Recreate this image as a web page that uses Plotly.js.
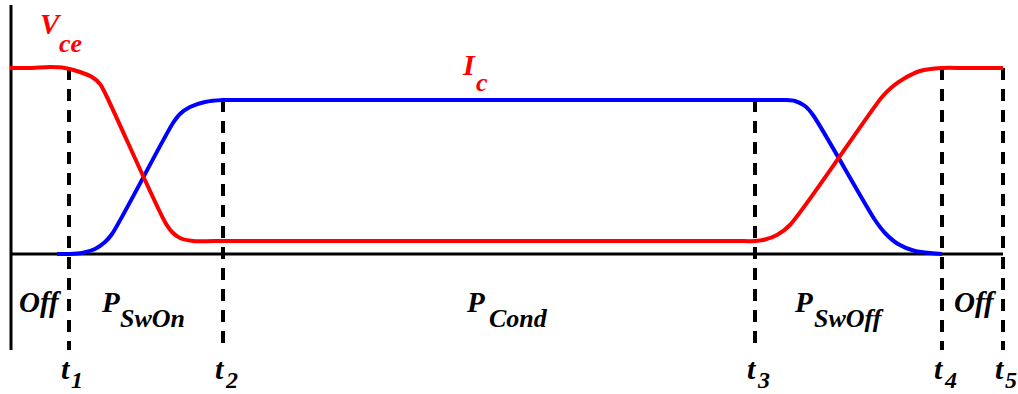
<!DOCTYPE html>
<html>
<head>
<meta charset="utf-8">
<script src="https://cdn.plot.ly/plotly-3.0.1.min.js"></script>
<style>
  html, body { margin: 0; padding: 0; background: #ffffff; }
  #chart { width: 1018px; height: 394px; }
</style>
</head>
<body>
<div id="chart"></div>
<script>
// Switching waveforms of an IGBT: collector-emitter voltage and collector current
// Time axis in arbitrary units; signal levels measured upward from the time axis.

const vceTime  = [10, 30, 50, 65, 80, 92, 100, 106, 165, 172, 180, 193, 215, 480, 735, 755, 765, 777, 790, 882, 892, 905, 920, 942, 965, 1003];
const vceLevel = [186, 186, 187, 186, 182, 177, 170, 159, 32, 22, 16, 13, 13, 13, 13, 13, 14.5, 19, 29, 157, 167, 176, 183, 186, 186, 186];

const icTime  = [57, 69, 82, 95, 105, 112, 173, 180, 190, 205, 223, 245, 500, 765, 785, 795, 805, 813, 875, 885, 898, 915, 942];
const icLevel = [0, 0, 1, 5, 12, 20, 131, 140, 147, 152, 154, 154, 154, 154, 154, 153, 148, 139, 34, 21, 10, 3, 0];

// switching instants t1..t5 and the level where each marker line starts
const instantNames = ['1', '2', '3', '4', '5'];
const instantTimes = [69, 223, 755, 942, 1003];
const instantTops  = [186, 154, 154, 186, 186];
const markerBottom = -96;

// axes
const axisStart = 11;
const axisEnd = 1003;
const axisTop = 249;

// interval labels: main symbol, subscript and their time positions
const intervalMain = ['Off', 'P', 'P', 'P', 'Off'];
const intervalSub  = ['', 'SwOn', 'Cond', 'SwOff', ''];
const intervalTime = [40, 110, 475, 803, 975];
const intervalSubTime = [0, 152, 518, 849, 0];

const RED = '#ff0000';
const BLUE = '#0000ff';
const FONT = 'Liberation Serif';

function draw() {
  const traces = [];

  // vertical and horizontal axis lines
  traces.push({
    x: [axisStart, axisStart], y: [axisTop, markerBottom],
    mode: 'lines', line: { color: '#000', width: 3 }, hoverinfo: 'skip'
  });
  traces.push({
    x: [axisStart, axisEnd], y: [0, 0],
    mode: 'lines', line: { color: '#000', width: 3 }, hoverinfo: 'skip'
  });

  // dashed markers at the switching instants
  instantTimes.forEach((t, i) => {
    traces.push({
      x: [t, t], y: [instantTops[i], markerBottom],
      mode: 'lines', line: { color: '#000', width: 4, dash: '12px,9px' }, hoverinfo: 'skip'
    });
  });

  // waveforms
  traces.push({
    x: icTime, y: icLevel, mode: 'lines', name: 'Ic',
    line: { color: BLUE, width: 4, shape: 'spline', smoothing: 0.8 }
  });
  traces.push({
    x: vceTime, y: vceLevel, mode: 'lines', name: 'Vce',
    line: { color: RED, width: 4, shape: 'spline', smoothing: 0.8 }
  });

  function label(text, x, y, size, color) {
    return {
      x: x, y: y, xref: 'x', yref: 'y', text: '<b><i>' + text + '</i></b>', showarrow: false,
      xanchor: 'center', yanchor: 'middle',
      font: { family: FONT, size: size, color: color || '#000' }
    };
  }

  const annotations = [];
  // signal names
  annotations.push(label('V', 51, 230, 29, RED));
  annotations.push(label('ce', 70, 211, 26, RED));
  annotations.push(label('I', 469, 190, 30, RED));
  annotations.push(label('c', 482, 172, 26, RED));

  // interval names
  intervalMain.forEach((m, i) => {
    annotations.push(label(m, intervalTime[i], -48, 29));
    if (intervalSub[i]) annotations.push(label(intervalSub[i], intervalSubTime[i], -64, 26));
  });

  // instants
  instantTimes.forEach((t, i) => {
    annotations.push(label('t', t - 3, -114, 30));
    annotations.push(label(instantNames[i], t + 8, -126, 24));
  });

  const layout = {
    width: 1018, height: 394,
    margin: { l: 0, r: 0, t: 0, b: 0 },
    paper_bgcolor: '#ffffff', plot_bgcolor: '#ffffff',
    showlegend: false,
    font: { family: FONT },
    xaxis: { range: [0, 1018], visible: false, fixedrange: true },
    yaxis: { range: [-140, 254], visible: false, fixedrange: true },
    annotations: annotations
  };

  Plotly.newPlot('chart', traces, layout, { staticPlot: true, displayModeBar: false });
}

// make sure the bold italic serif face is ready before text is measured
if (document.fonts && document.fonts.load) {
  Promise.all([
    document.fonts.load('bold italic 29px "Liberation Serif"'),
    document.fonts.load('bold 29px "Liberation Serif"')
  ]).then(draw, draw);
} else {
  draw();
}
</script>
</body>
</html>
